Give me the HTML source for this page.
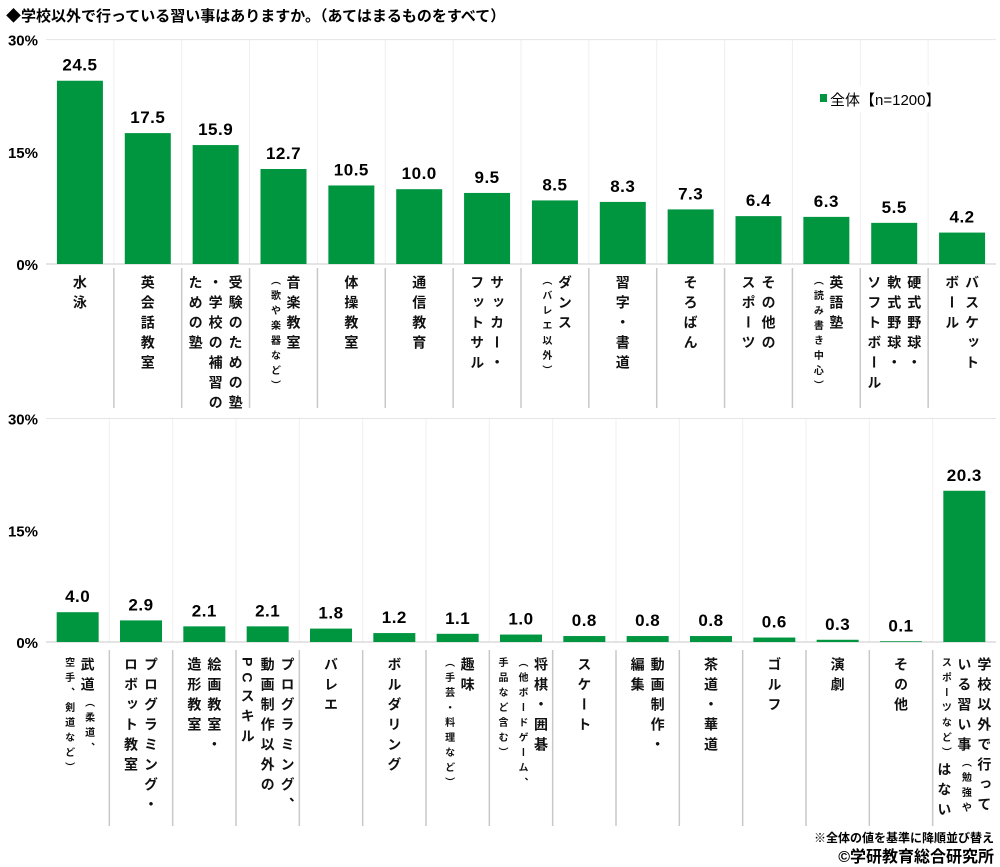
<!DOCTYPE html>
<html><head><meta charset="utf-8"><style>
body{margin:0;background:#fff;width:1000px;height:867px;position:relative;overflow:hidden;font-family:"Liberation Sans","Noto Sans CJK JP",sans-serif;color:#111}
.lab{position:absolute;display:flex;justify-content:center}
.v{writing-mode:vertical-rl;font-size:14px;font-weight:bold;letter-spacing:6px;line-height:20px;white-space:nowrap}
.s{font-size:10px;letter-spacing:5px}
svg text{font-family:"Liberation Sans","Noto Sans CJK JP",sans-serif}
</style></head><body>
<svg width="1000" height="867" style="position:absolute;left:0;top:0">
<text x="6" y="21" font-size="15" font-weight="bold">◆学校以外で行っている習い事はありますか。（あてはまるものをすべて）</text>
<g id="c1"></g>
<g id="c2"></g>
<text x="994" y="842" font-size="12" text-anchor="end" font-weight="bold">※全体の値を基準に降順並び替え</text>
<text x="994" y="862" font-size="16" text-anchor="end" font-weight="bold">©学研教育総合研究所</text>
</svg>
<div id="labs"></div>
<script>
function chart(g,vals,y0,scale,cw,bw,ldTop,ldBot){
  var s='',n=vals.length,x0=46,x1=996,ytop=y0-30*scale;
  for(var i=1;i<n;i++){var x=x0+cw*i;s+='<line x1="'+x+'" y1="'+ytop+'" x2="'+x+'" y2="'+y0+'" stroke="#efefef"/>';
    s+='<line x1="'+x+'" y1="'+ldTop+'" x2="'+x+'" y2="'+ldBot+'" stroke="#c8c8c8" stroke-width="1.5"/>';}
  s+='<line x1="'+x0+'" y1="'+ytop+'" x2="'+x1+'" y2="'+ytop+'" stroke="#e4e4e4"/>';
  s+='<line x1="'+x0+'" y1="'+y0+'" x2="'+x1+'" y2="'+y0+'" stroke="#dcdcdc" stroke-width="1.5"/>';
  [[30,ytop],[15,y0-15*scale],[0,y0]].forEach(function(t){s+='<text x="38" y="'+(t[1]+6)+'" font-size="15" font-weight="bold" text-anchor="end">'+t[0]+'%</text>';});
  vals.forEach(function(v,i){var cx=x0+cw*(i+.5),h=v*scale;
    s+='<rect x="'+(cx-bw/2)+'" y="'+(y0-h)+'" width="'+bw+'" height="'+h+'" fill="#009640"/>';
    s+='<text x="'+cx+'" y="'+(y0-h-10)+'" font-size="17" font-weight="600" text-anchor="middle" letter-spacing="0.5">'+v.toFixed(1)+'</text>';});
  document.getElementById(g).innerHTML=s;
}
chart('c1',[24.5,17.5,15.9,12.7,10.5,10.0,9.5,8.5,8.3,7.3,6.4,6.3,5.5,4.2],264,7.48,67.857,46,268,408);
chart('c2',[4.0,2.9,2.1,2.1,1.8,1.2,1.1,1.0,0.8,0.8,0.8,0.6,0.3,0.1,20.3],642,7.45,63.333,42,650,826);
document.getElementById('c1').innerHTML+='<rect x="812" y="86" width="140" height="26" fill="#fff"/><rect x="820" y="94" width="7" height="8" fill="#009640"/><text x="830" y="105" font-size="15">全体【n=1200】</text>';
var L1=['水泳','英会話教室','受験のための塾<br>・学校の補習の<br>ための塾','音楽教室<br><span class="s">（歌や楽器など）</span>','体操教室','通信教育','サッカー・<br>フットサル','ダンス<br><span class="s">（バレエ以外）</span>','習字・書道','そろばん','その他の<br>スポーツ','英語塾<br><span class="s">（読み書き中心）</span>','硬式野球・<br>軟式野球・<br>ソフトボール','バスケット<br>ボール'];
var L2=['武道<span class="s">（柔道、</span><br><span class="s">空手、剣道など）</span>','プログラミング・<br>ロボット教室','絵画教室・<br>造形教室','プログラミング、<br>動画制作以外の<br>PCスキル','バレエ','ボルダリング','趣味<br><span class="s">（手芸・料理など）</span>','将棋・囲碁<br><span class="s">（他ボードゲーム、</span><br><span class="s">手品など含む）</span>','スケート','動画制作・<br>編集','茶道・華道','ゴルフ','演劇','その他','学校以外で行って<br>いる習い事<span class="s">（勉強や</span><br><span class="s">スポーツなど）</span>はない'];
var h='';
L1.forEach(function(t,i){h+='<div class="lab" style="left:'+(46+67.857*i)+'px;top:275px;width:67.857px"><div class="v">'+t+'</div></div>';});
L2.forEach(function(t,i){h+='<div class="lab" style="left:'+(46+63.333*i)+'px;top:657px;width:63.333px"><div class="v">'+t+'</div></div>';});
document.getElementById('labs').innerHTML=h;
</script>
</body></html>
